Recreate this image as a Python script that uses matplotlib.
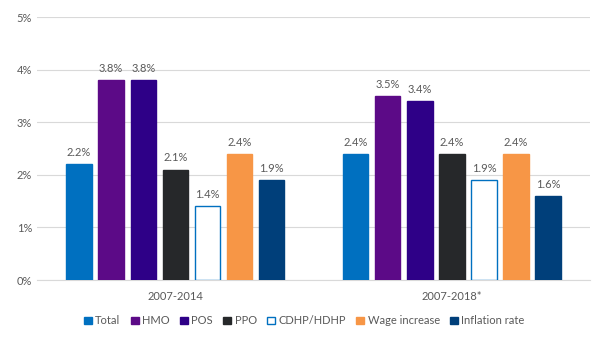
import numpy as np
import matplotlib.pyplot as plt

periods = ["2007-2014", "2007-2018*"]
series = ["Total", "HMO", "POS", "PPO", "CDHP/HDHP", "Wage increase", "Inflation rate"]
values = [
    [2.2, 2.4],
    [3.8, 3.5],
    [3.8, 3.4],
    [2.1, 2.4],
    [1.4, 1.9],
    [2.4, 2.4],
    [1.9, 1.6],
]
faces = ["#0070C0", "#5C0A87", "#2E0087", "#26282A", "white", "#F79646", "#003F7A"]
edges = ["#0070C0", "#5C0A87", "#2E0087", "#26282A", "#0070C0", "#F79646", "#003F7A"]

plt.rcParams['font.family'] = ['Lato', 'DejaVu Sans']
txt = "#595959"

fig = plt.figure(figsize=(5.98, 3.42), dpi=100)
ax = fig.add_axes([0.062, 0.181, 0.925, 0.769])

x = np.arange(len(periods))
step = 0.116
width = 0.092
for i, name in enumerate(series):
    pos = x + (i - 3) * step
    bars = ax.bar(pos, values[i], width, color=faces[i], edgecolor=edges[i],
                  linewidth=1.0, label=name, zorder=3)
    for b, v in zip(bars, values[i]):
        ax.text(b.get_x() + b.get_width() / 2, v + 0.12, f"{v:.1f}%",
                ha="center", va="bottom", fontsize=8, color=txt)

ax.set_xlim(-0.5, 1.5)
ax.set_ylim(0, 5)
ax.set_yticks(range(6))
ax.set_yticklabels([f"{t}%" for t in range(6)])
ax.set_xticks(x)
ax.set_xticklabels(periods)
ax.tick_params(length=0, labelsize=8, colors=txt)
ax.tick_params(axis="x", pad=8)
ax.grid(axis="y", color="#D9D9D9", linewidth=0.8, zorder=0)
for s in ["top", "right", "left"]:
    ax.spines[s].set_visible(False)
ax.spines["bottom"].set_color("#D9D9D9")

ax.legend(loc="center", bbox_to_anchor=(0.483, -0.155), ncol=7, frameon=False,
          fontsize=8, labelcolor=txt, handlelength=0.7, handleheight=0.7,
          handletextpad=0.3, columnspacing=0.95)

fig.savefig("out.png", dpi=100)
